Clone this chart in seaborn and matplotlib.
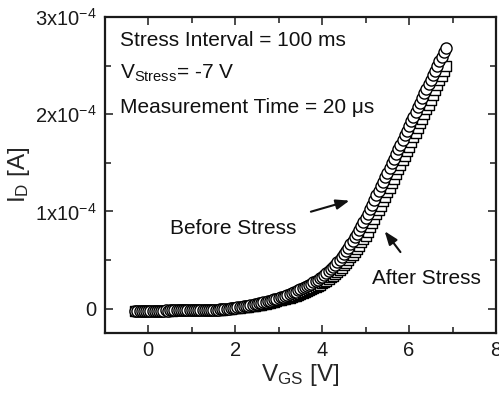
import matplotlib
matplotlib.use("Agg")
import matplotlib.pyplot as plt
from matplotlib.ticker import MultipleLocator, FixedLocator, FixedFormatter
import seaborn as sns
import pandas as pd

# Gate voltage sweep (V)
v_gs = [
    -0.30, -0.25, -0.20, -0.15, -0.10, -0.05, 0.00, 0.05, 0.10, 0.15,
    0.20, 0.25, 0.30, 0.35, 0.40, 0.45, 0.50, 0.55, 0.60, 0.65,
    0.70, 0.75, 0.80, 0.85, 0.90, 0.95, 1.00, 1.05, 1.10, 1.15,
    1.20, 1.25, 1.30, 1.35, 1.40, 1.45, 1.50,
    1.55, 1.60, 1.65, 1.70, 1.75, 1.80, 1.85, 1.90, 1.95, 2.00,
    2.05, 2.10, 2.15, 2.20, 2.25, 2.30, 2.35, 2.40, 2.45, 2.50,
    2.55, 2.60, 2.65, 2.70, 2.75, 2.80, 2.85, 2.90, 2.95, 3.00,
    3.05, 3.10, 3.15, 3.20, 3.25, 3.30, 3.35, 3.40, 3.45, 3.50,
    3.55, 3.60, 3.65, 3.70, 3.75, 3.80, 3.85, 3.90, 3.95, 4.00,
    4.05, 4.10, 4.15, 4.20, 4.25, 4.30, 4.35, 4.40, 4.45, 4.50,
    4.55, 4.60, 4.65, 4.70, 4.75, 4.80, 4.85, 4.90, 4.95, 5.00,
    5.05, 5.10, 5.15, 5.20, 5.25, 5.30, 5.35, 5.40, 5.45, 5.50,
    5.55, 5.60, 5.65, 5.70, 5.75, 5.80, 5.85, 5.90, 5.95, 6.00,
    6.05, 6.10, 6.15, 6.20, 6.25, 6.30, 6.35, 6.40, 6.45, 6.50,
    6.55, 6.60, 6.65, 6.70, 6.75, 6.80, 6.85,
]

# Drain current before stress (units of 1e-4 A)
i_before = [
    -0.020, -0.021, -0.020, -0.020, -0.019, -0.020, -0.020, -0.019, -0.020, -0.019,
    -0.019, -0.020, -0.019, -0.019, -0.018, -0.019, -0.018, -0.018, -0.018, -0.017,
    -0.018, -0.017, -0.017, -0.016, -0.016, -0.016, -0.015, -0.015, -0.015, -0.014,
    -0.014, -0.013, -0.013, -0.013, -0.012, -0.012, -0.011,
    -0.010, -0.009, -0.007, -0.005, -0.003, -0.001, 0.002, 0.004, 0.007, 0.010,
    0.013, 0.016, 0.020, 0.024, 0.028, 0.032, 0.036, 0.040, 0.045, 0.050,
    0.055, 0.060, 0.065, 0.071, 0.077, 0.083, 0.089, 0.096, 0.103, 0.110,
    0.117, 0.125, 0.133, 0.141, 0.149, 0.158, 0.167, 0.177, 0.188, 0.200,
    0.211, 0.222, 0.233, 0.245, 0.257, 0.270, 0.284, 0.299, 0.314, 0.330,
    0.348, 0.367, 0.387, 0.408, 0.430, 0.453, 0.478, 0.504, 0.531, 0.560,
    0.593, 0.627, 0.662, 0.698, 0.735, 0.773, 0.812, 0.851, 0.890, 0.930,
    0.977, 1.024, 1.071, 1.118, 1.165, 1.212, 1.259, 1.306, 1.353, 1.400,
    1.448, 1.496, 1.544, 1.592, 1.640, 1.688, 1.736, 1.784, 1.832, 1.880,
    1.928, 1.976, 2.024, 2.072, 2.120, 2.167, 2.214, 2.261, 2.308, 2.355,
    2.402, 2.449, 2.496, 2.543, 2.590, 2.637, 2.684,
]

# Drain current after stress (units of 1e-4 A)
i_after = [
    -0.021, -0.020, -0.021, -0.020, -0.020, -0.021, -0.020, -0.020, -0.019, -0.020,
    -0.020, -0.019, -0.020, -0.019, -0.019, -0.019, -0.018, -0.019, -0.018, -0.018,
    -0.018, -0.017, -0.017, -0.017, -0.017, -0.016, -0.016, -0.016, -0.015, -0.015,
    -0.015, -0.014, -0.014, -0.014, -0.013, -0.013, -0.012,
    -0.012, -0.011, -0.010, -0.008, -0.006, -0.004, -0.002, 0.000, 0.003, 0.005,
    0.008, 0.010, 0.013, 0.016, 0.019, 0.022, 0.025, 0.028, 0.031, 0.035,
    0.039, 0.043, 0.047, 0.052, 0.057, 0.062, 0.067, 0.073, 0.079, 0.085,
    0.091, 0.097, 0.103, 0.109, 0.115, 0.122, 0.129, 0.136, 0.143, 0.150,
    0.159, 0.168, 0.178, 0.188, 0.199, 0.210, 0.222, 0.234, 0.247, 0.260,
    0.275, 0.290, 0.306, 0.323, 0.341, 0.360, 0.380, 0.401, 0.423, 0.446,
    0.472, 0.499, 0.527, 0.556, 0.586, 0.617, 0.649, 0.682, 0.716, 0.750,
    0.794, 0.838, 0.882, 0.926, 0.970, 1.015, 1.060, 1.106, 1.152, 1.198,
    1.245, 1.292, 1.339, 1.386, 1.433, 1.480, 1.527, 1.574, 1.621, 1.668,
    1.716, 1.764, 1.812, 1.860, 1.908, 1.956, 2.004, 2.052, 2.100, 2.148,
    2.198, 2.248, 2.298, 2.348, 2.398, 2.448, 2.498,
]

y_ticks = [0, 1, 2, 3]
y_tick_labels = ["0", "1x10$^{-4}$", "2x10$^{-4}$", "3x10$^{-4}$"]
x_ticks = [0, 2, 4, 6, 8]

sns.set_style("ticks")
plt.rcParams["font.family"] = ["Liberation Sans", "DejaVu Sans"]
plt.rcParams["mathtext.default"] = "regular"

df_before = pd.DataFrame({"V": v_gs, "I": i_before})
df_after = pd.DataFrame({"V": v_gs, "I": i_after})

fig = plt.figure(figsize=(4.99, 3.96), dpi=100)
ax = fig.add_axes([0.210, 0.159, 0.784, 0.798])

sns.scatterplot(data=df_after, x="V", y="I", marker="s", s=52,
                facecolor="white", edgecolor="black", linewidth=1.0,
                ax=ax, zorder=3)
sns.scatterplot(data=df_before, x="V", y="I", marker="o", s=64,
                facecolor="white", edgecolor="black", linewidth=1.0,
                ax=ax, zorder=4)

ax.set_xlim(-1, 8)
ax.set_ylim(-0.25, 3.0)

ax.xaxis.set_major_locator(FixedLocator(x_ticks))
ax.xaxis.set_minor_locator(MultipleLocator(1))
ax.yaxis.set_major_locator(FixedLocator(y_ticks))
ax.yaxis.set_major_formatter(FixedFormatter(y_tick_labels))
ax.yaxis.set_minor_locator(MultipleLocator(0.5))

ax.tick_params(which="both", direction="in", top=True, right=True,
               width=1.1, labelsize=14.5, pad=6, colors="#1a1a1a")
ax.tick_params(which="major", length=5.5)
ax.tick_params(which="minor", length=4)
for sp in ax.spines.values():
    sp.set_linewidth(1.6)
    sp.set_color("#1a1a1a")

ax.set_xlabel("V$_{GS}$ [V]", fontsize=17.5, labelpad=1)
ax.set_ylabel("I$_D$ [A]", fontsize=17.5, labelpad=2)

txt = dict(fontsize=15, color="#111111")
ax.text(-0.64, 2.70, "Stress Interval = 100 ms", **txt)
ax.text(-0.64, 2.37, "V$_{Stress}$= -7 V", **txt)
ax.text(-0.64, 2.01, "Measurement Time = 20 \u03bcs", **txt)

ax.text(1.96, 0.83, "Before Stress", ha="center", va="center", **txt)
ax.text(6.41, 0.31, "After Stress", ha="center", va="center", **txt)

arrow = dict(arrowstyle="-|>,head_length=0.8,head_width=0.3", color="#111111", lw=1.5)
ax.annotate("", xy=(4.69, 1.12), xytext=(3.68, 0.99), arrowprops=arrow)
ax.annotate("", xy=(5.40, 0.82), xytext=(5.84, 0.56), arrowprops=arrow)

fig.savefig("out.png", dpi=100)
